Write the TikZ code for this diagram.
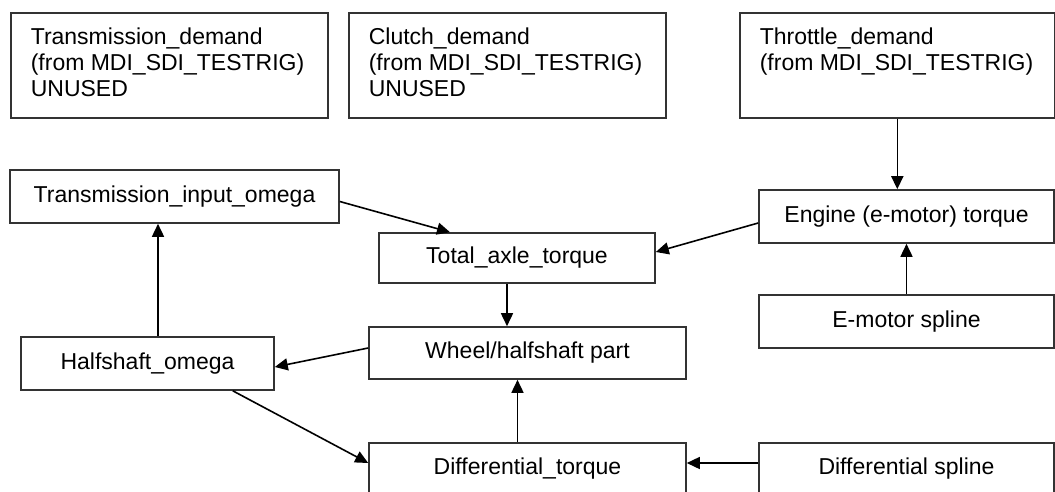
\documentclass[tikz,border=0pt]{standalone}
\usepackage{fontspec}
\setmainfont{Liberation Sans}
\usetikzlibrary{arrows.meta}
\begin{document}
\begin{tikzpicture}[x=1pt,y=-1pt,
  font=\fontsize{23}{26}\selectfont,
  box/.style={draw=black!80, line width=1.6pt, fill=white, inner sep=0pt},
  demandbox/.style={box, inner xsep=20pt, inner ysep=15pt, anchor=north west},
  flow/.style={draw=black, line width=1.6pt, -{Triangle[length=13pt,width=12pt]}}
]
\clip (0,0) rectangle (1055,491);
\fill[white] (0,0) rectangle (1055,491);

% demand inputs from the test rig
\node[demandbox] (td) at (10,12)
  {\parbox[c][75pt][t]{277pt}{Transmission\_demand\\(from MDI\_SDI\_TESTRIG)\\UNUSED}};
\node[demandbox] (cd) at (348,12)
  {\parbox[c][75pt][t]{277pt}{Clutch\_demand\\(from MDI\_SDI\_TESTRIG)\\UNUSED}};
\node[demandbox] (thd) at (739,12)
  {\parbox[c][75pt][t]{275pt}{Throttle\_demand\\(from MDI\_SDI\_TESTRIG)}};

% signal blocks
\node[box, minimum width=329pt, minimum height=53pt] (tio) at (174.5,196.5) {Transmission\_input\_omega};
\node[box, minimum width=276pt, minimum height=50pt] (tat) at (517,258) {Total\_axle\_torque};
\node[box, minimum width=295pt, minimum height=53pt] (eng) at (906.5,216.5) {Engine (e-motor) torque};
\node[box, minimum width=295pt, minimum height=53pt] (ems) at (906.5,321.5) {E-motor spline};
\node[box, minimum width=317pt, minimum height=52pt] (whp) at (527.5,353) {Wheel/halfshaft part};
\node[box, minimum width=253pt, minimum height=53pt] (hso) at (147.5,363.5) {Halfshaft\_omega};
\node[box, minimum width=317pt, minimum height=52pt] (dt) at (527.5,469) {Differential\_torque};
\node[box, minimum width=295pt, minimum height=52pt] (ds) at (906.5,469) {Differential spline};

% connections
\draw[flow] ([yshift=-5pt]tio.east) -- ([xshift=-67pt]tat.north);
\draw[flow] ([yshift=-6.5pt]eng.west) -- ([yshift=6pt]tat.east);
\draw[flow] (thd.south) -- (thd.south |- eng.north);
\draw[flow] (ems.north) -- (eng.south);
\draw[flow] ([xshift=-10pt]tat.south) -- ([xshift=-10pt]tat.south |- whp.north);
\draw[flow] ([xshift=-10pt]dt.north) -- ([xshift=-10pt]dt.north |- whp.south);
\draw[flow] ([yshift=5pt]whp.west) -- ([yshift=-3.5pt]hso.east);
\draw[flow] ([xshift=-42pt]hso.south east) -- ([yshift=6pt]dt.west);
\draw[flow] ([yshift=6pt]ds.west) -- ([yshift=6pt]dt.east);
\draw[flow] ([xshift=10.5pt]hso.north) -- ([xshift=10.5pt]hso.north |- tio.south);
\end{tikzpicture}
\end{document}
